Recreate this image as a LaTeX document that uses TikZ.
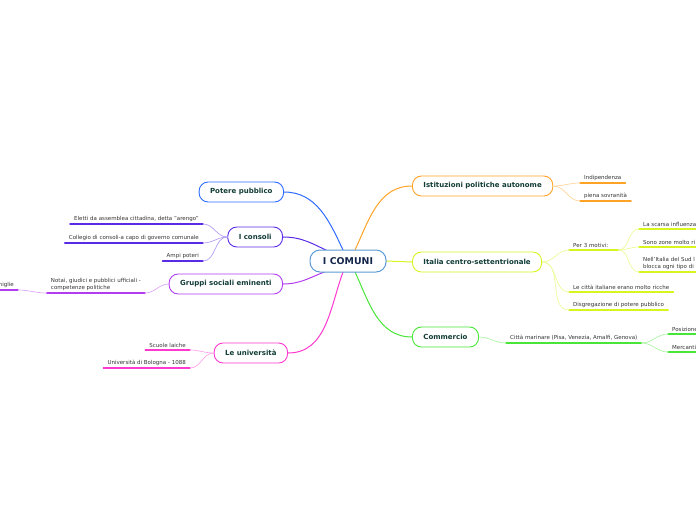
\documentclass[tikz,border=0pt]{standalone}
\usepackage{fontspec}
\setmainfont{DejaVu Sans}
\usetikzlibrary{positioning}

\definecolor{cBlue}{HTML}{2E6BFF}
\definecolor{cViolet}{HTML}{5A2BE6}
\definecolor{cPurple}{HTML}{B23CF0}
\definecolor{cPink}{HTML}{FF38D0}
\definecolor{cOrange}{HTML}{FFA326}
\definecolor{cLime}{HTML}{D8F520}
\definecolor{cGreen}{HTML}{48E636}
\definecolor{cCenter}{HTML}{5B9BD5}
\definecolor{topictext}{HTML}{123C36}
\definecolor{centertext}{HTML}{14264A}
\definecolor{leaftext}{HTML}{333333}

\tikzset{
  topic/.style={draw=#1, line width=0.9pt, fill=white, rounded corners=9pt,
    minimum height=20pt, inner xsep=11pt, text=topictext,
    font=\fontsize{7}{8.4}\selectfont\bfseries},
  leaf/.style={text=leaftext, font=\fontsize{5.5}{7}\selectfont,
    inner xsep=4pt, inner ysep=2.2pt, align=left,
    append after command={(\tikzlastnode.south west) edge[draw=#1, line width=1.4pt] (\tikzlastnode.south east)}},
  branch/.style={draw=#1, line width=1pt},
  twig/.style={draw=#1!45, line width=0.7pt},
}

\begin{document}
\begin{tikzpicture}[x=1pt,y=-1pt,line cap=round,line join=round]
  \useasboundingbox (0,0) rectangle (696,520);
  \clip (0,0) rectangle (696,520);

  \coordinate (s-po) at (343,250);
  \coordinate (s-co) at (330,252);
  \coordinate (s-gr) at (327,271);
  \coordinate (s-un) at (343,272);
  \coordinate (s-is) at (355,250);
  \coordinate (s-it) at (386,261);
  \coordinate (s-cm) at (355,272);

  \draw[branch=cBlue] (s-po) to[out=115,in=0] (284,192) coordinate (e-po);
  \draw[branch=cViolet] (s-co) to[out=155,in=0] (283,237) coordinate (e-co);
  \draw[branch=cPurple] (s-gr) to[out=200,in=0] (283,284) coordinate (e-gr);
  \draw[branch=cPink] (s-un) to[out=250,in=0] (288,353) coordinate (e-un);
  \draw[branch=cOrange] (s-is) to[out=65,in=180] (412,186) coordinate (e-is);
  \draw[branch=cLime] (s-it) -- (412,262) coordinate (e-it);
  \draw[branch=cGreen] (s-cm) to[out=-65,in=180] (412,337) coordinate (e-cm);

  \node[draw=cCenter, line width=1pt, fill=white, rounded corners=10pt,
    minimum width=76pt, minimum height=22pt, text=centertext,
    font=\fontsize{9.4}{11}\selectfont\bfseries] (comuni) at (348,261) {I COMUNI};

  \node[topic=cBlue, anchor=east] (potere) at (e-po) {Potere pubblico};
  \node[topic=cViolet, anchor=east] (consoli) at (e-co) {I consoli};
  \node[topic=cPurple, anchor=east] (gruppi) at (e-gr) {Gruppi sociali eminenti};
  \node[topic=cPink, anchor=east] (univ) at (e-un) {Le università};
  \node[topic=cOrange, anchor=west] (istit) at (e-is) {Istituzioni politiche autonome};
  \node[topic=cLime, anchor=west] (italia) at (e-it) {Italia centro-settentrionale};
  \node[topic=cGreen, anchor=west] (commercio) at (e-cm) {Commercio};

  \node[leaf=cViolet, anchor=south east] (eletti) at (203,224) {Eletti da assemblea cittadina, detta "arengo"};
  \node[leaf=cViolet, anchor=south east] (collegio) at (203,243) {Collegio di consoli-a capo di governo comunale};
  \node[leaf=cViolet, anchor=south east] (ampi) at (203,261) {Ampi poteri};
  \node[leaf=cPurple, anchor=south east] (notai) at (145,293) {Notai, giudici e pubblici ufficiali -\\competenze politiche};
  \node[leaf=cPurple, anchor=south east, text width=40pt, align=right] (famiglie) at (18,290) {miglie};
  \node[leaf=cPink, anchor=south east] (scuole) at (190,350) {Scuole laiche};
  \node[leaf=cPink, anchor=south east] (bologna) at (190,368) {Università di Bologna - 1088};

  \node[leaf=cOrange, anchor=south west] (indip) at (580,183) {Indipendenza};
  \node[leaf=cOrange, anchor=south west] (sovran) at (580,201) {piena sovranità};
  \node[leaf=cLime, anchor=south west, text width=41pt] (motivi) at (569,250) {Per 3 motivi:};
  \node[leaf=cLime, anchor=south west, text width=80pt] (scarsa) at (639,229) {La scarsa influenza};
  \node[leaf=cLime, anchor=south west, text width=80pt] (zone) at (639,247) {Sono zone molto ri};
  \node[leaf=cLime, anchor=south west, text width=80pt] (sud) at (639,272) {Nell'Italia del Sud l\\blocca ogni tipo di};
  \node[leaf=cLime, anchor=south west] (ricche) at (569,292) {Le città italiane erano molto ricche};
  \node[leaf=cLime, anchor=south west] (disgreg) at (569,310) {Disgregazione di potere pubblico};
  \node[leaf=cGreen, anchor=south west] (citta) at (506,343) {Città marinare (Pisa, Venezia, Amalfi, Genova)};
  \node[leaf=cGreen, anchor=south west, text width=40pt] (posiz) at (668,334) {Posizione};
  \node[leaf=cGreen, anchor=south west, text width=40pt] (merc) at (668,352) {Mercanti};

  \draw[twig=cViolet] (consoli.west) to[out=180,in=0] (eletti.south east);
  \draw[twig=cViolet] (consoli.west) to[out=180,in=0] (collegio.south east);
  \draw[twig=cViolet] (consoli.west) to[out=180,in=0] (ampi.south east);
  \draw[twig=cPurple] (gruppi.west) to[out=180,in=0] (notai.south east);
  \draw[twig=cPurple] (notai.south west) to[out=180,in=0] (famiglie.south east);
  \draw[twig=cPink] (univ.west) to[out=180,in=0] (scuole.south east);
  \draw[twig=cPink] (univ.west) to[out=180,in=0] (bologna.south east);

  \draw[twig=cOrange] (istit.east) to[out=0,in=180] (indip.south west);
  \draw[twig=cOrange] (istit.east) to[out=0,in=180] (sovran.south west);
  \draw[twig=cLime] (italia.east) to[out=0,in=180] (motivi.south west);
  \draw[twig=cLime] (italia.east) to[out=0,in=180] (ricche.south west);
  \draw[twig=cLime] (italia.east) to[out=0,in=180] (disgreg.south west);
  \draw[twig=cLime] (motivi.south east) to[out=0,in=180] (scarsa.south west);
  \draw[twig=cLime] (motivi.south east) to[out=0,in=180] (zone.south west);
  \draw[twig=cLime] (motivi.south east) to[out=0,in=180] (sud.south west);
  \draw[twig=cGreen] (commercio.east) to[out=0,in=180] (citta.south west);
  \draw[twig=cGreen] (citta.south east) to[out=0,in=180] (posiz.south west);
  \draw[twig=cGreen] (citta.south east) to[out=0,in=180] (merc.south west);
\end{tikzpicture}
\end{document}
